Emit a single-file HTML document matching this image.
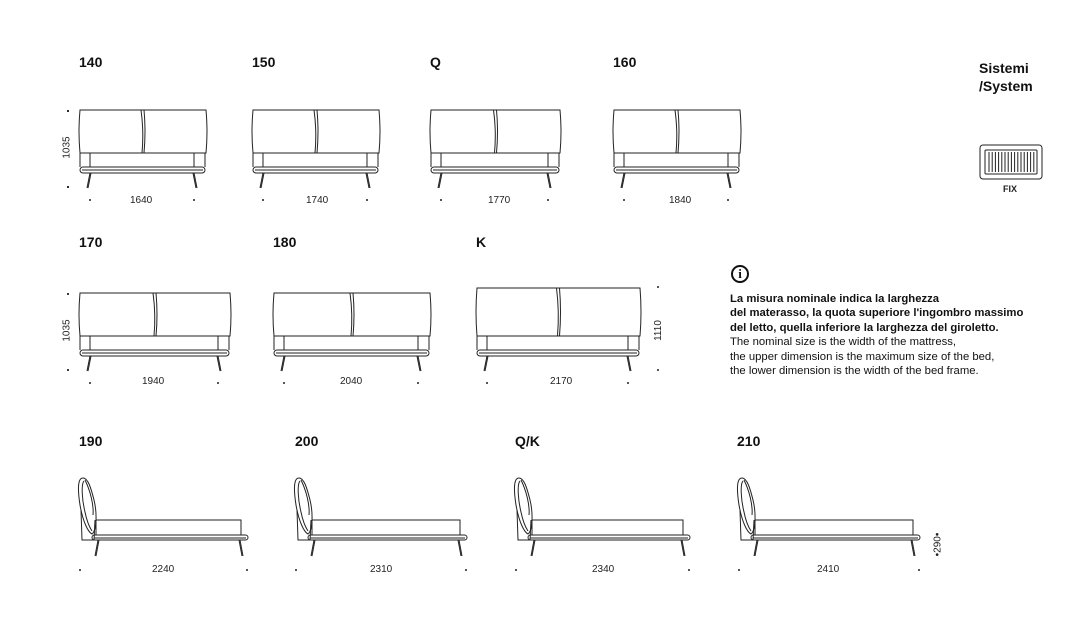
<!DOCTYPE html>
<html><head><meta charset="utf-8"><style>
body{margin:0;width:1092px;height:634px;background:#fff;overflow:hidden;font-family:"Liberation Sans",sans-serif;color:#111}
.h{position:absolute;font-weight:bold;font-size:14px}
.t{position:absolute;font-size:10px;color:#222}
.v{position:absolute;font-size:10px;color:#222;transform:rotate(-90deg);transform-origin:center}
svg{position:absolute;left:0;top:0}
</style></head><body>
<svg id="s" width="1092" height="634" viewBox="0 0 1092 634" fill="none" stroke="#222" stroke-width="1"></svg>
<div class="h" style="left:79px;top:54px">140</div>
<div class="h" style="left:252px;top:54px">150</div>
<div class="h" style="left:430px;top:54px">Q</div>
<div class="h" style="left:613px;top:54px">160</div>
<div class="h" style="left:79px;top:234px">170</div>
<div class="h" style="left:273px;top:234px">180</div>
<div class="h" style="left:476px;top:234px">K</div>
<div class="h" style="left:79px;top:433px">190</div>
<div class="h" style="left:295px;top:433px">200</div>
<div class="h" style="left:515px;top:433px">Q/K</div>
<div class="h" style="left:737px;top:433px">210</div>
<div class="h" style="left:979px;top:59px;font-size:14px;line-height:18px">Sistemi<br>/System</div>
<div class="t" style="left:1003px;top:184px;font-weight:bold;font-size:9px">FIX</div>
<div class="t" style="left:130px;top:195px">1640</div>
<div class="t" style="left:306px;top:195px">1740</div>
<div class="t" style="left:488px;top:195px">1770</div>
<div class="t" style="left:669px;top:195px">1840</div>
<div class="t" style="left:142px;top:376px">1940</div>
<div class="t" style="left:340px;top:376px">2040</div>
<div class="t" style="left:550px;top:376px">2170</div>
<div class="t" style="left:152px;top:564px">2240</div>
<div class="t" style="left:370px;top:564px">2310</div>
<div class="t" style="left:592px;top:564px">2340</div>
<div class="t" style="left:817px;top:564px">2410</div>
<div class="v" style="left:56px;top:142px">1035</div>
<div class="v" style="left:56px;top:325px">1035</div>
<div class="v" style="left:648px;top:325px">1110</div>
<div class="v" style="left:926px;top:539px">•290•</div>
<div style="position:absolute;left:730px;top:292px;font-size:11.3px;line-height:14.4px;color:#111">
<b>La misura nominale indica la larghezza<br>del materasso, la quota superiore l'ingombro massimo<br>del letto, quella inferiore la larghezza del giroletto.</b><br>The nominal size is the width of the mattress,<br>the upper dimension is the maximum size of the bed,<br>the lower dimension is the width of the bed frame.</div>
<div style="position:absolute;left:731px;top:265px;width:18px;height:18px;border:2px solid #111;border-radius:50%;box-sizing:border-box;font-weight:bold;font-size:13px;line-height:14px;text-align:center;font-family:'Liberation Serif',serif">i</div>
<script>
var s=document.getElementById('s'),h='';
function L(a,b,c,d){h+=`<line x1="${a}" y1="${b}" x2="${c}" y2="${d}"/>`}
function D(x,y){h+=`<circle cx="${x}" cy="${y}" r="1" fill="#222" stroke="none"/>`}
function F(x0,x1,top,o,right){
 var m=(x0+x1)/2,b=153+o;
 h+=`<path d="M${x0+1} ${top} Q${x0-1} ${(top+b)/2} ${x0+1} ${b} L${x1-1} ${b} Q${x1+1} ${(top+b)/2} ${x1-1} ${top} Z"/>`;
 L(x0+1,top,x1-1,top);
 h+=`<path d="M${m-2} ${top} Q${m+1} ${(top+b)/2} ${m-1} ${b}"/><path d="M${m+1} ${top} Q${m+3} ${(top+b)/2} ${m+1} ${b}"/>`;
 var a=x0+11,c=x1-13;
 L(a,b,a,167+o);L(c,b,c,167+o);L(x0+1,b,x0+1,167+o);L(x1-2,b,x1-2,167+o);
 h+=`<rect x="${x0+1}" y="${167+o}" width="${x1-x0-3}" height="6" rx="3"/>`;L(x0+3,170+o,x1-4,170+o);
 L(a,173+o,a-3,188+o);L(a+1,173+o,a-2,188+o);L(c,173+o,c+3,188+o);L(c-1,173+o,c+2,188+o);
 D(a,200+o);D(c,200+o);
 if(right){D(x1+17,top-1);D(x1+17,187+o)}else{D(68,111+o);D(68,187+o)}
}
F(79,207,110,0);F(252,380,110,0);F(430,561,110,0);F(613,741,110,0);
F(79,231,293,183);F(273,431,293,183);F(476,641,288,183,1);
function S(x0,x1){
 h+=`<path d="M${x0+5} 478 C${x0-1} 478 ${x0} 492 ${x0+2} 505 C${x0+5} 522 ${x0+10} 532 ${x0+14} 534 C${x0+19} 530 ${x0+19} 512 ${x0+16} 500 C${x0+13} 488 ${x0+10} 478 ${x0+5} 478Z"/>`;
 h+=`<path d="M${x0+6} 481 C${x0+3} 484 ${x0+4} 500 ${x0+7} 512 C${x0+9} 522 ${x0+12} 528 ${x0+14} 531"/><path d="M${x0+7} 480 C${x0+12} 490 ${x0+16} 505 ${x0+15} 515"/>`;
 h+=`<path d="M${x0+3} 510 L${x0+4} 540 L${x0+16} 540 L${x0+17} 520"/>`;
 h+=`<path d="M${x0+18} 520 L${x1-7} 520 L${x1-7} 535 M${x0+18} 520 L${x0+18} 535"/>`;
 h+=`<rect x="${x0+14}" y="535" width="${x1-x0-14}" height="5" rx="2.5"/>`;L(x0+16,538,x1-2,538);
 L(x0+20,540,x0+17,556);L(x0+21,540,x0+18,556);L(x1-8,540,x1-5,556);L(x1-9,540,x1-6,556);
 D(x0+2,570);D(x1-1,570);
}
S(78,248);S(294,467);S(514,690);S(737,920);
h+=`<rect x="980" y="145" width="62" height="34" rx="3"/><rect x="985" y="150" width="52" height="24" rx="1"/>`;
for(var i=0;i<15;i++)L(989+i*3.2,152,989+i*3.2,172);
s.innerHTML=h;
</script>
</body></html>
